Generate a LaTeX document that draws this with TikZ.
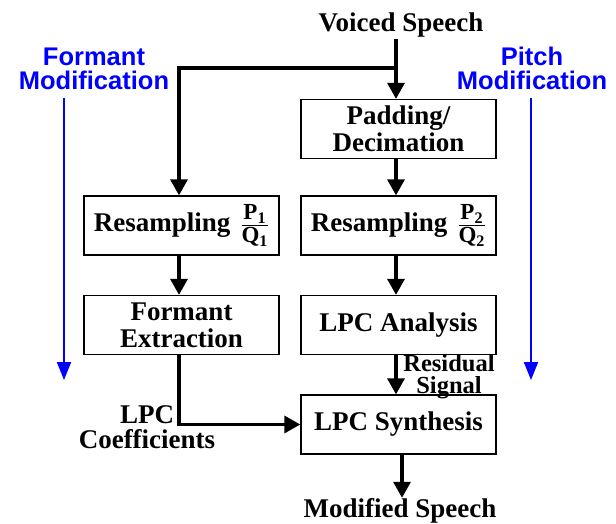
\documentclass[tikz,border=0pt]{standalone}
\usepackage{amsmath}
\usepackage{fontspec}
\setmainfont{Liberation Serif}
\newfontfamily\lsans{Liberation Sans}
\usetikzlibrary{arrows.meta}
\definecolor{modblue}{RGB}{0,0,255}
\newcommand{\myfrac}[2]{{\fontsize{23}{23}\selectfont$\genfrac{}{}{1.5pt}{1}{\mbox{\fontsize{23}{23}\selectfont\bfseries #1}}{\mbox{\fontsize{23}{23}\selectfont\bfseries #2}}$}}
\begin{document}
\begin{tikzpicture}[x=1pt,y=-1pt,
  lbl/.style={font=\fontsize{27}{27}\selectfont\bfseries, inner sep=0pt, align=center},
  blk/.style={draw, line width=1.3pt, minimum width=195pt, minimum height=59pt, inner sep=0pt,
    font=\fontsize{27}{27}\selectfont\bfseries, align=center},
  flow/.style={line width=3.3pt, -{Triangle[length=16pt,width=17pt]}},
  mod/.style={font=\lsans\fontsize{25.5}{24}\selectfont\bfseries, text=modblue, inner sep=0pt, align=center},
  modarr/.style={draw=modblue, line width=2pt, -{Triangle[length=18pt,width=14pt]}}
]
\fill[white] (0,0) rectangle (616,524);
\useasboundingbox (0,0) rectangle (616,524);

% labels
\node[lbl, anchor=base] (vs) at (401,32) {Voiced Speech};
\node[mod, anchor=base] (fm) at (94,90) {Formant\\Modification};
\node[mod, anchor=base] (pm) at (532,90) {Pitch\\Modification};

% blocks
\node[blk] (pad) at (398.5,129) {Padding/\\Decimation};
\node[blk] (rs1) at (181.5,225.5) {Resampling\hspace{10pt}\myfrac{P\textsubscript{1}}{Q\textsubscript{1}}};
\node[blk] (rs2) at (398.5,225.5) {Resampling\hspace{10pt}\myfrac{P\textsubscript{2}}{Q\textsubscript{2}}};
\node[blk] (fe) at (181.5,325) {Formant\\Extraction};
\node[blk] (lpa) at (398.5,325) {LPC Analysis};
\node[blk] (lps) at (398.5,424.5) {LPC Synthesis};

\node[lbl, font=\fontsize{24.5}{22}\selectfont\bfseries, anchor=base] (res) at (449,393) {Residual\\Signal};
\node[lbl, font=\fontsize{27}{25}\selectfont\bfseries, anchor=base] (coef) at (147,448) {LPC\\Coefficients};
\node[lbl, anchor=base] (ms) at (400,517) {Modified Speech};

% connectors
\coordinate (vsout) at (396,39);
\coordinate (br) at (396,68);
\draw[flow] (vsout) -- (vsout |- pad.north);
\draw[flow] (br) -| ([xshift=-2.5pt]rs1.north);
\draw[flow] (pad.south -| vsout) -- (rs2.north -| vsout);
\draw[flow] ([xshift=-2.5pt]rs1.south) -- ([xshift=-2.5pt]fe.north);
\draw[flow] (rs2.south -| vsout) -- (lpa.north -| vsout);
\draw[flow] (lpa.south -| vsout) -- (lps.north -| vsout);
\draw[flow] ([xshift=-2.5pt]fe.south) |- (lps.west);
\draw[flow] ([xshift=3.5pt]lps.south) -- ([xshift=2pt]ms.north);

% modification arrows
\coordinate (fma) at (64,98);
\coordinate (fmb) at (64,380);
\coordinate (pma) at (531,98);
\coordinate (pmb) at (531,380);
\draw[modarr] (fma) -- (fmb);
\draw[modarr] (pma) -- (pmb);
\end{tikzpicture}
\end{document}
